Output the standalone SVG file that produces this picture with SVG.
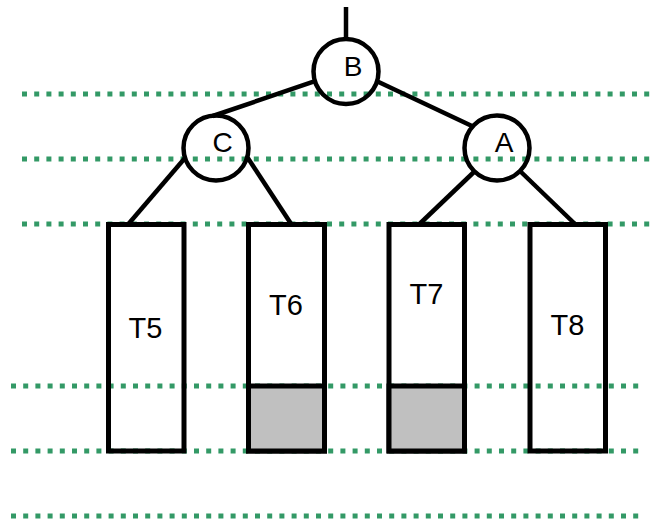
<svg xmlns="http://www.w3.org/2000/svg" width="652" height="519" viewBox="0 0 652 519">
<style>
.grid{stroke:#339966;stroke-width:5;stroke-dasharray:5 7.2;fill:none}
.edge{stroke:#000;stroke-width:4.5;fill:none}
.node{stroke:#000;stroke-width:4.5;fill:none}
.box{stroke:#000;stroke-width:5;fill:none}
.shade{fill:#c0c0c0;stroke:#000;stroke-width:5}
.lbl{font-family:"Liberation Sans",Arial,sans-serif;font-size:28px;fill:#000;text-anchor:middle}
.tl{font-family:"Liberation Sans",Arial,sans-serif;font-size:29px;fill:#000;text-anchor:middle}
</style>
<rect width="652" height="519" fill="#fff"/>
<g id="levels">
<line class="grid" x1="22" y1="94" x2="650" y2="94"/>
<line class="grid" x1="22" y1="159" x2="650" y2="159"/>
<line class="grid" x1="22" y1="224" x2="650" y2="224"/>
<line class="grid" x1="11" y1="386" x2="639" y2="386"/>
<line class="grid" x1="11" y1="451" x2="639" y2="451"/>
<line class="grid" x1="11" y1="516" x2="639" y2="516"/>
</g>
<g id="connectors">
<line class="edge" x1="346" y1="7" x2="346" y2="40"/>
<line class="edge" x1="315" y1="81.2" x2="212.8" y2="116"/>
<line class="edge" x1="377" y1="81.3" x2="473" y2="126.5"/>
<line class="edge" x1="185" y1="158" x2="128" y2="224.5"/>
<line class="edge" x1="247.5" y1="157.5" x2="291.5" y2="224.5"/>
<line class="edge" x1="475" y1="171" x2="419" y2="224.5"/>
<line class="edge" x1="520" y1="171" x2="575.5" y2="224.5"/>
</g>
<g id="B">
<circle class="node" cx="346" cy="71.5" r="32.5"/>
<text class="lbl" x="353" y="76">B</text>
</g>
<g id="C">
<circle class="node" cx="216" cy="148" r="32.5"/>
<text class="lbl" x="222.5" y="152">C</text>
</g>
<g id="A">
<circle class="node" cx="497" cy="148" r="32.5"/>
<text class="lbl" x="504" y="152">A</text>
</g>
<g id="T5">
<rect class="box" x="108.5" y="224.5" width="75.5" height="226.5"/>
<text class="tl" x="145.5" y="337.5">T5</text>
</g>
<g id="T6">
<rect class="box" x="248.5" y="224.5" width="76" height="226.5"/>
<rect class="shade" x="248.5" y="386" width="76" height="65"/>
<text class="tl" x="286" y="315">T6</text>
</g>
<g id="T7">
<rect class="box" x="389" y="224.5" width="75.5" height="226.5"/>
<rect class="shade" x="389" y="386" width="75.5" height="65"/>
<text class="tl" x="426.5" y="304">T7</text>
</g>
<g id="T8">
<rect class="box" x="530" y="224.5" width="75.5" height="226.5"/>
<text class="tl" x="567.5" y="335">T8</text>
</g>
</svg>
